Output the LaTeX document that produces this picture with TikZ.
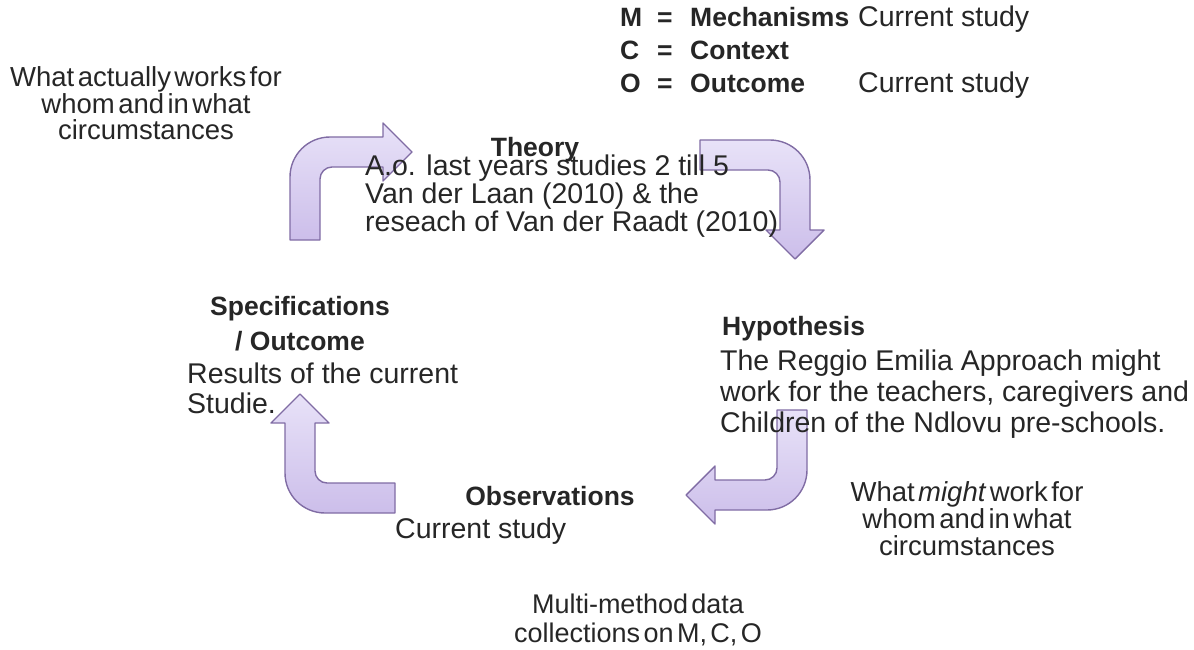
\documentclass[tikz,border=0pt]{standalone}
\usepackage{fontspec}
\setmainfont{Liberation Sans}
\newfontfamily\notefont{Liberation Sans}[WordSpace=0.45]
\usepackage{xcolor}
\definecolor{arrowfill}{RGB}{204,190,234}
\definecolor{arrowlight}{RGB}{232,226,248}
\definecolor{arrowedge}{RGB}{128,108,164}
\definecolor{textgrey}{RGB}{38,38,38}
\newcommand{\bentarrow}[5]{% x y angle shaft head: bent arrow, width 30
  \begin{scope}[shift={(#1,#2)},rotate=#3]
    \draw[arrowbody] (0,#4) -- (0,40) .. controls (0,17.9) and (17.9,0) .. (40,0)
      -- (#5,0) -- (#5,-14) -- (#5+29,15) -- (#5,44) -- (#5,30)
      -- (42,30) .. controls (35.4,30) and (30,35.4) .. (30,42) -- (30,#4) -- cycle;
  \end{scope}
}
\tikzset{
  arrowbody/.style={draw=arrowedge,line width=1.4pt,line join=round,
    top color=arrowlight,bottom color=arrowfill},
  labelhead/.style={font=\fontsize{26.5}{35}\selectfont\bfseries,text=textgrey,inner sep=0pt,align=center},
  labelbody/.style={font=\fontsize{28.5}{31}\selectfont,text=textgrey,inner sep=0pt,align=left},
  sidenote/.style={font=\notefont\fontsize{27.5}{27}\selectfont,text=textgrey,inner sep=0pt,align=center},
}

\begin{document}
\begin{tikzpicture}[x=1pt,y=-1pt]
  \useasboundingbox (0,0) rectangle (1194,650);
  % cycle arrows
  \bentarrow{290}{137}{0}{103}{93}
  \bentarrow{810}{140}{-90}{110}{90}
  \bentarrow{807}{510}{180}{100}{92}
  \bentarrow{285}{513}{90}{110}{90}
  % legend
  \node[labelhead,anchor=base west] (legM) at (620,27){M};
  \node[labelhead,anchor=base west] (legMeq) at (657,27){=};
  \node[labelhead,anchor=base west] (legMtxt) at (690,27){Mechanisms};
  \node[labelbody,anchor=base west] (legMstudy) at (858,27){Current study};
  \node[labelhead,anchor=base west] (legC) at (620,60){C};
  \node[labelhead,anchor=base west] (legCeq) at (657,60){=};
  \node[labelhead,anchor=base west] (legCtxt) at (690,60){Context};
  \node[labelhead,anchor=base west] (legO) at (620,93){O};
  \node[labelhead,anchor=base west] (legOeq) at (657,93){=};
  \node[labelhead,anchor=base west] (legOtxt) at (690,93){Outcome};
  \node[labelbody,anchor=base west] (legOstudy) at (858,93){Current study};
  % stages (base = last line)
  \node[labelhead,anchor=base] (theory) at (535,157){Theory};
  \node[labelbody,anchor=base west,font=\fontsize{28.5}{26}\selectfont] (theorybody) at (365,231)
    {A.o. last years studies 2 till 5\\Van der Laan (2010) \& the\\reseach of Van der Raadt (2010)};
  \node[labelhead,anchor=base west] (hypo) at (722,335){Hypothesis};
  \node[labelbody,anchor=base west] (hypobody) at (720,432)
    {The Reggio Emilia Approach might\\work for the teachers, caregivers and\\Children of the Ndlovu pre-schools.};
  \node[labelhead,anchor=base] (obs) at (550,505){Observations};
  \node[labelbody,anchor=base west] (obsbody) at (395,538){Current study};
  \node[labelhead,anchor=base] (spec) at (300,350){Specifications\\/ Outcome};
  \node[labelbody,anchor=base west,font=\fontsize{28.5}{30}\selectfont] (specbody) at (187,413)
    {Results of the current\\Studie.};
  % notes
  \node[sidenote,anchor=base] (actual) at (146,140){What actually works for\\whom and in what\\circumstances};
  \node[sidenote,anchor=base] (might) at (967,555){What \textit{might} work for\\whom and in what\\circumstances};
  \node[sidenote,anchor=base,font=\notefont\fontsize{27}{29}\selectfont] (multi) at (638,642)
    {Multi-method data\\collections on M, C, O};
\end{tikzpicture}
\end{document}
